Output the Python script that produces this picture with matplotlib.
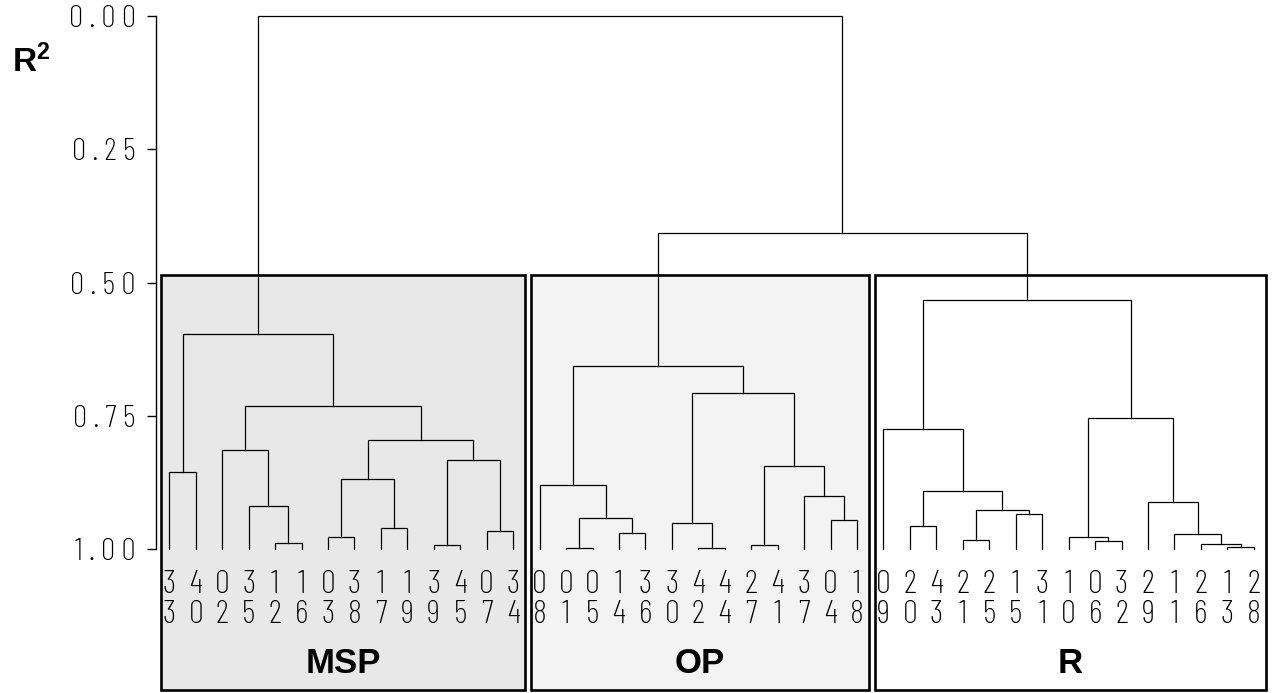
import matplotlib
matplotlib.use('Agg')
import matplotlib.pyplot as plt
from matplotlib.patches import Rectangle
from matplotlib import font_manager

# leaf labels (two digits written top/bottom)
leaf_labels = ['33', '40', '02', '35', '12', '16', '03', '38', '17', '19', '39', '45', '07', '34',
               '08', '01', '05', '14', '36', '30', '42', '44', '27', '41', '37', '04', '18',
               '09', '20', '43', '21', '25', '15', '31', '10', '06', '32', '29', '11', '26', '13', '28']
group_names = ['MSP', 'OP', 'R']
group_sizes = [14, 13, 15]
group_fill = ['#e8e8e8', '#f3f3f3', 'white']

# merges (node a, node b, R2), new nodes numbered after the 42 leaves
msp_merges = [(0, 1, 0.856), (4, 5, 0.988), (3, 43, 0.919), (2, 44, 0.814),
              (6, 7, 0.977), (8, 9, 0.961), (46, 47, 0.869), (10, 11, 0.992),
              (12, 13, 0.966), (49, 50, 0.832), (48, 51, 0.795), (45, 52, 0.731),
              (42, 53, 0.597)]
op_merges = [(15, 16, 0.998), (17, 18, 0.969), (55, 56, 0.941), (14, 57, 0.880),
             (20, 21, 0.998), (19, 59, 0.952), (22, 23, 0.993), (25, 26, 0.946),
             (24, 62, 0.900), (61, 63, 0.845), (60, 64, 0.707), (58, 65, 0.656)]
r_merges = [(28, 29, 0.956), (30, 31, 0.983), (32, 33, 0.935), (68, 69, 0.926),
            (67, 70, 0.891), (27, 71, 0.774), (35, 36, 0.985), (34, 73, 0.978),
            (40, 41, 0.996), (39, 75, 0.990), (38, 76, 0.972), (37, 77, 0.911),
            (74, 78, 0.755), (72, 79, 0.533)]
top_merges = [(66, 80, 0.408), (54, 81, 0.0)]

y_ticks = [0.0, 0.25, 0.5, 0.75, 1.0]

plt.rcParams['mathtext.fontset'] = 'custom'
plt.rcParams['mathtext.rm'] = 'Liberation Sans'
plt.rcParams['mathtext.bf'] = 'Liberation Sans:bold'

thin = font_manager.FontProperties(family=['Barlow Condensed', 'DejaVu Sans'], weight=275)

fig = plt.figure(figsize=(12.78, 6.93), dpi=100)
ax = fig.add_axes([156 / 1278, 0, 1 - 156 / 1278, 1])
ax.set_xlim(-0.503, 41.916)
ax.set_ylim(1.270, -0.030)

# boxes for the three groups
start = 0
for name, size, fill in zip(group_names, group_sizes, group_fill):
    x0, x1 = start - 0.32, start + size - 1 + 0.46
    ax.add_patch(Rectangle((x0, 0.486), x1 - x0, 1.265 - 0.486, facecolor=fill,
                           edgecolor='black', lw=1.9, zorder=1, clip_on=False))
    ax.text((x0 + x1) / 2, 1.214, name, ha='center', va='center', fontsize=25,
            fontweight='bold', family='Liberation Sans', zorder=3)
    start += size

# dendrogram
n = len(leaf_labels)
xpos = {i: float(i) for i in range(n)}
hpos = {i: 1.0 for i in range(n)}
node = n
for a, b, h in msp_merges + op_merges + r_merges + top_merges:
    ax.plot([xpos[a], xpos[a], xpos[b], xpos[b]], [hpos[a], h, h, hpos[b]],
            color='black', lw=0.9, zorder=2, solid_joinstyle='miter')
    xpos[node] = (xpos[a] + xpos[b]) / 2
    hpos[node] = h
    node += 1

for i, lab in enumerate(leaf_labels):
    ax.text(i, 1.0675, lab[0], ha='center', va='center', fontproperties=thin,
            fontsize=24, zorder=3)
    ax.text(i, 1.124, lab[1], ha='center', va='center', fontproperties=thin,
            fontsize=24, zorder=3)

for s in ['top', 'right', 'bottom']:
    ax.spines[s].set_visible(False)
ax.spines['left'].set_bounds(0, 1)
ax.spines['left'].set_linewidth(1)
ax.set_xticks([])
ax.set_yticks(y_ticks)
ax.set_yticklabels([' '.join(f'{v:.2f}') for v in y_ticks], fontproperties=thin, fontsize=23)
ax.tick_params(axis='y', length=6.5, width=1, pad=8)
ax.patch.set_alpha(0)

fig.text(12 / 1278, 1 - 72 / 693, r'$\mathbf{R^2}$', fontsize=24,
         va='baseline', ha='left')

fig.savefig('out.png', dpi=100)
